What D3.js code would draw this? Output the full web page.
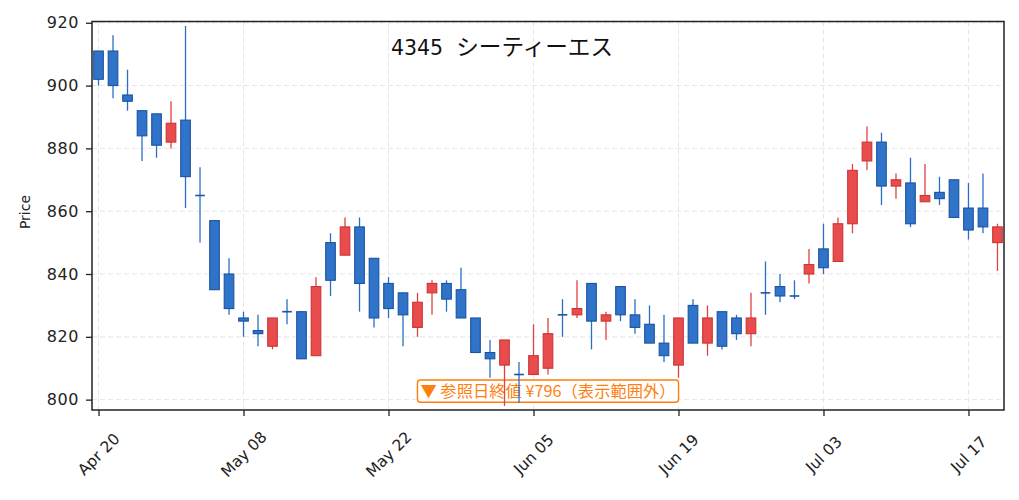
<!DOCTYPE html>
<html>
<head>
<meta charset="utf-8">
<script src="https://cdn.jsdelivr.net/npm/d3@7"></script>
<style>
body { margin: 0; background: #fff; }
svg { display: block; }
</style>
</head>
<body>
<svg id="chart" width="1019" height="500"></svg>
<script>
// trading days (index axis, ticks every 10 sessions)
var dates = ["2026-04-20","2026-04-21","2026-04-22","2026-04-23","2026-04-24","2026-04-27","2026-04-28","2026-04-30",
	"2026-05-01","2026-05-07","2026-05-08","2026-05-11","2026-05-12","2026-05-13","2026-05-14","2026-05-15",
	"2026-05-18","2026-05-19","2026-05-20","2026-05-21","2026-05-22","2026-05-25","2026-05-26","2026-05-27",
	"2026-05-28","2026-05-29","2026-06-01","2026-06-02","2026-06-03","2026-06-04","2026-06-05","2026-06-08",
	"2026-06-09","2026-06-10","2026-06-11","2026-06-12","2026-06-15","2026-06-16","2026-06-17","2026-06-18",
	"2026-06-19","2026-06-22","2026-06-23","2026-06-24","2026-06-25","2026-06-26","2026-06-29","2026-06-30",
	"2026-07-01","2026-07-02","2026-07-03","2026-07-06","2026-07-07","2026-07-08","2026-07-09","2026-07-10",
	"2026-07-13","2026-07-14","2026-07-15","2026-07-16","2026-07-17","2026-07-21","2026-07-22"];

var open  = [911,911,897,892,891,882,889,865,857,840, 826,822,817,828,828,814,850,846,855,845,
	837,834,823,834,837,835,826,815,811,808, 808,810,827,827,837,825,836,827,824,818,
	811,830,818,828,826,821,834,836,833,840, 848,844,856,876,882,868,869,863,866,870, 861,861,850];
var high  = [911,916,905,892,891,895,919,874,857,845, 828,827,826,832,828,839,853,858,858,845,
	839,834,834,838,838,842,826,819,819,812, 824,826,832,838,837,828,836,832,830,827,
	826,832,830,828,827,834,844,840,838,848, 856,858,875,887,885,872,877,875,871,870, 869,872,856];
var low   = [900,896,892,876,877,880,861,850,835,827, 820,817,816,824,813,814,833,846,828,823,
	826,817,820,827,828,826,815,807,798,799, 808,808,820,826,816,819,825,821,818,812,
	807,818,814,816,819,817,827,831,832,837, 840,844,853,873,862,864,855,863,862,858, 851,853,841];
var close = [902,900,895,884,881,888,871,865,835,829, 825,821,826,828,813,836,838,855,837,826,
	829,827,831,837,832,826,815,813,819,808, 814,821,827,829,825,827,827,823,818,814,
	826,818,826,817,821,826,834,833,833,843, 842,856,873,882,868,870,856,865,864,858, 854,855,855];

var xTickLabels = ["Apr 20","May 08","May 22","Jun 05","Jun 19","Jul 03","Jul 17"];
var yTicks = [800,820,840,860,880,900,920];
var code = "4345";
var name = "シーティーエス";
var refClose = 796;

var upFill = "#e84c4c", upEdge = "#cc3434", upWick = "#e04141";
var dnFill = "#2f74c9", dnEdge = "#1b52a2", dnWick = "#2a6fc6";
var latin = "'DejaVu Sans', 'Noto Sans CJK JP', sans-serif";
var jp = "'Noto Sans CJK JP', 'DejaVu Sans', sans-serif";

var L = 92, R = 1004, T = 21.5, B = 410;
var svg = d3.select("#chart");
svg.append("rect").attr("width", 1019).attr("height", 500).attr("fill", "#fff");

var x = d3.scaleLinear().domain([-0.45, dates.length - 0.55]).range([L, R]);
var y = d3.scaleLinear().domain([796.7, 920.4]).range([B, T]);

var fmt = d3.timeFormat("%b %d");
var parse = d3.timeParse("%Y-%m-%d");
var xTicks = [];
dates.forEach(function(d, i) {
	if (xTickLabels.indexOf(fmt(parse(d))) >= 0) xTicks.push(i);
});

// grid
var grid = svg.append("g").attr("stroke", "#e6e6e6").attr("stroke-width", 1).attr("stroke-dasharray", "5,3");
grid.selectAll(".gy").data(yTicks).enter().append("line")
	.attr("x1", L).attr("x2", R).attr("y1", function(d) { return y(d); }).attr("y2", function(d) { return y(d); });
grid.selectAll(".gx").data(xTicks).enter().append("line")
	.attr("y1", T).attr("y2", B).attr("x1", function(d) { return x(d); }).attr("x2", function(d) { return x(d); });

// reference close note (out of range)
var note = svg.append("g");
var noteText = note.append("text")
	.attr("x", (L + R) / 2).attr("y", 396.8)
	.attr("text-anchor", "middle")
	.attr("font-family", jp).attr("font-size", 16.3)
	.attr("fill", "#ff7f0e")
	.text("▼ 参照日終値 ¥" + refClose + "（表示範囲外）");
var nb = noteText.node().getBBox();
note.insert("rect", "text")
	.attr("x", nb.x - 3).attr("y", 380).attr("width", nb.width + 6).attr("height", 22.3)
	.attr("rx", 3).attr("fill", "#fff").attr("fill-opacity", 0.9)
	.attr("stroke", "#ff7f0e").attr("stroke-width", 1.4);

// candles
svg.append("clipPath").attr("id", "plotclip").append("rect")
	.attr("x", L).attr("y", T).attr("width", R - L).attr("height", B - T);
var candles = svg.append("g").attr("clip-path", "url(#plotclip)");
var bw = 9.6;
var idx = d3.range(dates.length);

candles.selectAll(".wick").data(idx).enter().append("line")
	.attr("x1", function(i) { return x(i); }).attr("x2", function(i) { return x(i); })
	.attr("y1", function(i) { return y(high[i]); }).attr("y2", function(i) { return y(low[i]); })
	.attr("stroke", function(i) { return close[i] > open[i] ? upWick : dnWick; })
	.attr("stroke-width", 1.3);

candles.selectAll(".body").data(idx.filter(function(i) { return open[i] != close[i]; })).enter().append("rect")
	.attr("x", function(i) { return x(i) - bw / 2; })
	.attr("y", function(i) { return y(Math.max(open[i], close[i])); })
	.attr("width", bw)
	.attr("height", function(i) { return Math.abs(y(open[i]) - y(close[i])); })
	.attr("fill", function(i) { return close[i] > open[i] ? upFill : dnFill; })
	.attr("stroke", function(i) { return close[i] > open[i] ? upEdge : dnEdge; })
	.attr("stroke-width", 1.1);

candles.selectAll(".doji").data(idx.filter(function(i) { return open[i] == close[i]; })).enter().append("line")
	.attr("x1", function(i) { return x(i) - bw / 2; }).attr("x2", function(i) { return x(i) + bw / 2; })
	.attr("y1", function(i) { return y(open[i]); }).attr("y2", function(i) { return y(open[i]); })
	.attr("stroke", dnEdge).attr("stroke-width", 1.6);

// axes
var yAxis = svg.append("g").attr("transform", "translate(" + L + ",0)")
	.call(d3.axisLeft(y).tickValues(yTicks).tickSize(6).tickPadding(7));
var xAxis = svg.append("g").attr("transform", "translate(0," + B + ")")
	.call(d3.axisBottom(x).tickValues(xTicks).tickSize(6)
		.tickFormat(function(i) { return fmt(parse(dates[i])); }));
[yAxis, xAxis].forEach(function(g) {
	g.select(".domain").remove();
	g.selectAll(".tick line").attr("stroke", "#222").attr("stroke-width", 1.3);
	g.selectAll(".tick text").attr("fill", "#222").attr("font-family", latin).attr("font-size", 16);
});
yAxis.selectAll(".tick text").attr("letter-spacing", 0.6);
xAxis.selectAll(".tick text")
	.attr("y", 0).attr("dy", null)
	.attr("text-anchor", "middle").attr("dominant-baseline", "central")
	.attr("font-size", 15.5)
	.attr("transform", "translate(0,44.5) rotate(-45)");

svg.append("rect").attr("x", L).attr("y", T).attr("width", R - L).attr("height", B - T)
	.attr("fill", "none").attr("stroke", "#222").attr("stroke-width", 1.5);

svg.append("text")
	.attr("transform", "translate(25,212) rotate(-90)")
	.attr("text-anchor", "middle").attr("dominant-baseline", "central")
	.attr("font-family", latin).attr("font-size", 14).attr("fill", "#222")
	.text("Price");

var title = svg.append("text").attr("x", 502).attr("y", 54.5).attr("text-anchor", "middle").attr("fill", "#111");
title.append("tspan").attr("font-family", latin).attr("font-size", 20.5).text(code + "\u00a0\u00a0");
title.append("tspan").attr("font-family", jp).attr("font-size", 22.6).text(name);
</script>
</body>
</html>
